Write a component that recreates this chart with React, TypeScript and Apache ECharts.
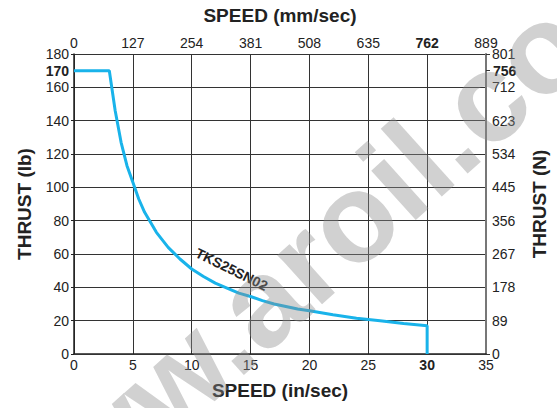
import React, { useEffect, useRef } from "react";
import * as echarts from "echarts";

// ---- data ----
const xMin = 0;
const xMax = 35;
const xStep = 5;
const yMin = 0;
const yMax = 180;
const yStep = 20;
const topLabels = ["0", "127", "254", "381", "508", "635", "762", "889"];
const boldTopLabel = "762";
const boldBottomValue = 30;
const rightLabels = ["0", "89", "178", "267", "356", "445", "534", "623", "712", "801"];
const leftMarkValue = 170;
const rightMarkValue = 170; // 756 N
const rightMarkLabel = "756";
const curveName = "TKS25SN02";
const curveLabelAt = [13.4, 50.8];
const speedIn = [0, 3, 3.5, 4, 4.5, 5, 5.5, 6, 7, 8, 9, 10, 11, 12, 13, 14, 15, 16, 17, 18, 19, 20, 22, 24, 26, 28, 30, 30];
const thrustLb = [170, 170, 146, 127, 113, 103, 93, 85, 73, 64, 57, 51, 46.5, 42.5, 39.5, 36.5, 34.5, 32, 30, 28.5, 27, 26, 23.5, 21.5, 20, 18.3, 17, 0];
const watermark = "www.aroil.com";

const FONT = "'Liberation Sans Narrow', 'Arial Narrow', 'Liberation Sans', Arial, sans-serif";
const TITLE_FONT = "'Liberation Sans', Arial, sans-serif";

export default function App() {
  const ref = useRef<HTMLDivElement>(null);
  useEffect(() => {
    if (!ref.current) return;
    const chart = echarts.init(ref.current, null, { renderer: "svg" });
    const labelStyle = { fontFamily: FONT, fontSize: 14, color: "#222" };
    const titleStyle = { fontFamily: TITLE_FONT, fontSize: 19, fontWeight: "bold", color: "#222" };
    const option: any = {
      animation: false,
      backgroundColor: "#fff",
      grid: { left: 74, right: 70, top: 54, bottom: 54, containLabel: false },
      xAxis: [
        {
          type: "value", position: "bottom", min: xMin, max: xMax, interval: xStep,
          name: "SPEED (in/sec)", nameLocation: "middle", nameGap: 27, nameTextStyle: titleStyle,
          axisLine: { show: true, lineStyle: { color: "#222", width: 1.5 } },
          axisTick: { show: false },
          splitLine: { show: true, lineStyle: { color: "#333", width: 1 } },
          axisLabel: {
            ...labelStyle, margin: 4,
            formatter: (v: number) => (v === boldBottomValue ? `{b|${v}}` : `${v}`),
            rich: { b: { ...labelStyle, fontWeight: "bold" } },
          },
        },
        {
          type: "value", position: "top", min: xMin, max: xMax, interval: xStep,
          name: "SPEED (mm/sec)", nameLocation: "middle", nameGap: 29, nameTextStyle: titleStyle,
          axisLine: { show: true, lineStyle: { color: "#333", width: 1 } },
          axisTick: { show: false },
          splitLine: { show: false },
          axisLabel: {
            ...labelStyle, margin: 4,
            formatter: (v: number) => {
              const s = topLabels[Math.round(v / xStep)] ?? "";
              return s === boldTopLabel ? `{b|${s}}` : s;
            },
            rich: { b: { ...labelStyle, fontWeight: "bold" } },
          },
        },
      ],
      yAxis: [
        {
          type: "value", position: "left", min: yMin, max: yMax, interval: yStep,
          name: "THRUST (lb)", nameLocation: "middle", nameGap: 40, nameRotate: 90, nameTextStyle: titleStyle,
          axisLine: { show: true, lineStyle: { color: "#222", width: 1.5 } },
          axisTick: { show: true, length: 3, lineStyle: { color: "#222" } },
          splitLine: { show: true, lineStyle: { color: "#333", width: 1 } },
          axisLabel: { ...labelStyle, margin: 5 },
        },
        {
          type: "value", position: "left", min: yMin, max: yMax, interval: leftMarkValue,
          axisLine: { show: false },
          axisTick: { show: false },
          splitLine: { show: false },
          axisLabel: {
            ...labelStyle, margin: 5, fontWeight: "bold",
            formatter: (v: number) => (v === leftMarkValue ? `${v}` : ""),
          },
        },
        {
          type: "value", position: "right", min: yMin, max: yMax, interval: yStep,
          name: "THRUST (N)", nameLocation: "middle", nameGap: 44, nameRotate: 90, nameTextStyle: titleStyle,
          axisLine: { show: true, lineStyle: { color: "#777", width: 2 } },
          axisTick: { show: false },
          splitLine: { show: false },
          axisLabel: {
            ...labelStyle, margin: 6,
            formatter: (v: number) => rightLabels[Math.round(v / yStep)] ?? "",
          },
        },
        {
          type: "value", position: "right", min: yMin, max: yMax, interval: rightMarkValue,
          axisLine: { show: false },
          axisTick: { show: true, length: 4, lineStyle: { color: "#333" }, interval: 0 },
          splitLine: { show: false },
          axisLabel: {
            ...labelStyle, margin: 7, fontWeight: "bold",
            formatter: (v: number) => (v === rightMarkValue ? rightMarkLabel : ""),
          },
        },
      ],
      series: [
        {
          type: "line",
          xAxisIndex: 0,
          yAxisIndex: 0,
          data: speedIn.map((x, i) => [x, thrustLb[i]]),
          showSymbol: false,
          smooth: false,
          lineStyle: { color: "#19b3ea", width: 3 },
          z: 3,
        },
      ],
    };
    chart.setOption(option);
    const p = chart.convertToPixel({ xAxisIndex: 0, yAxisIndex: 0 }, curveLabelAt) as number[];
    chart.setOption({
      graphic: [
        {
          type: "text", x: p[0], y: p[1], rotation: -0.46, z: 10,
          style: {
            text: curveName, fontFamily: TITLE_FONT, fontSize: 14, fontWeight: "bold",
            fill: "#222", align: "center", verticalAlign: "middle",
          },
        },
        {
          type: "text", x: 322, y: 246, rotation: 0.733, z: 20,
          style: {
            text: watermark, fontFamily: TITLE_FONT, fontSize: 126, fontWeight: "bold",
            fill: "rgba(140,140,140,0.4)", align: "center", verticalAlign: "middle",
          },
        },
      ],
    });
    return () => chart.dispose();
  }, []);
  return <div ref={ref} style={{ position: "fixed", left: 0, top: 0, width: 557, height: 408 }} />;
}
